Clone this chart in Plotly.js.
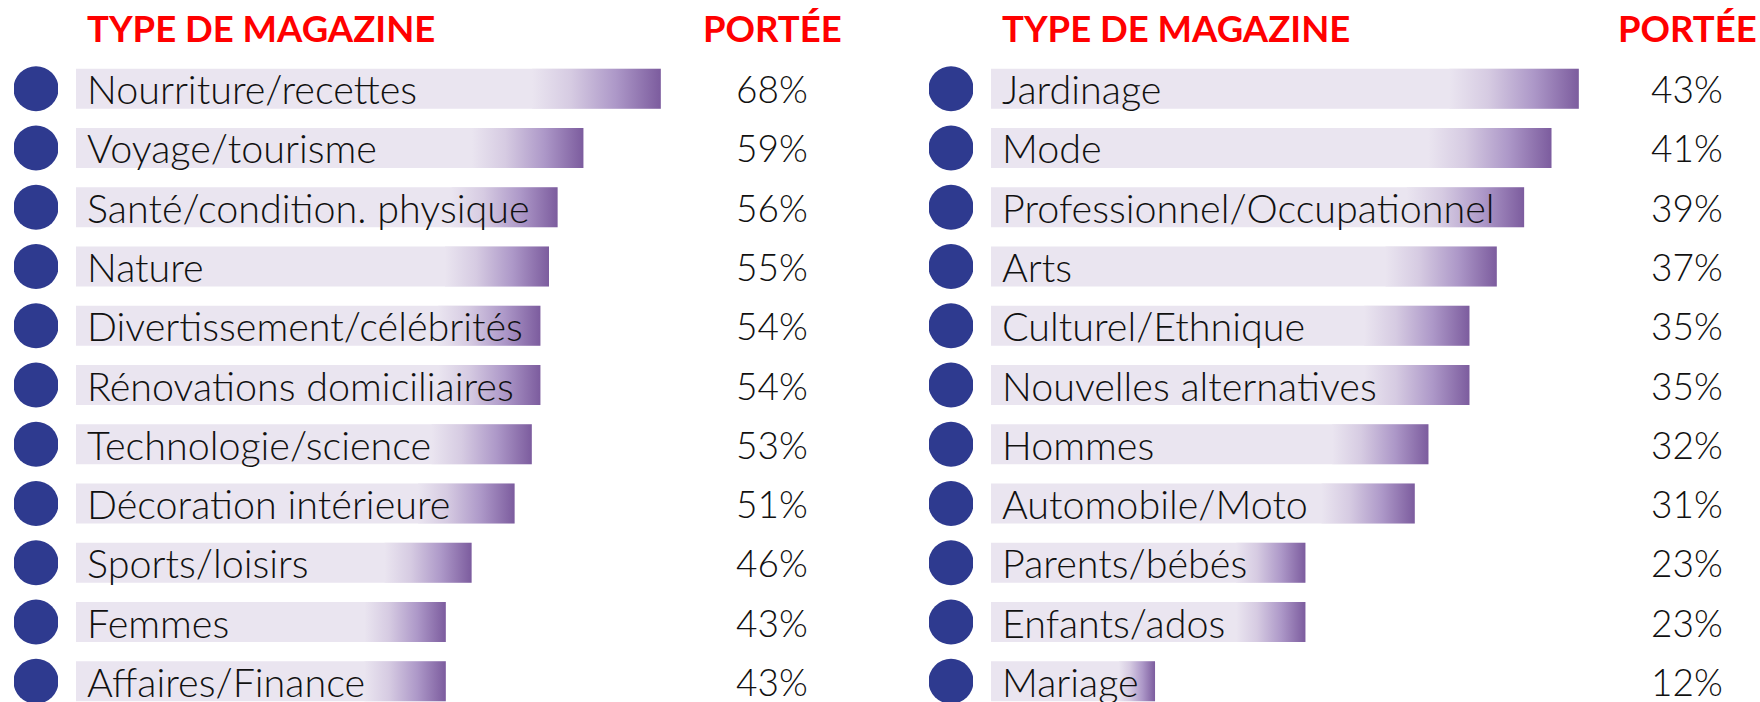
<!DOCTYPE html>
<html><head><meta charset="utf-8">
<script src="https://cdn.plot.ly/plotly-3.0.1.min.js"></script>
<style>html,body{margin:0;padding:0;background:#fff;overflow:hidden}#chart{width:1760px;height:702px}</style>
</head><body><div id="chart"></div>
<script>
// ---- data ----
const leftCategories = ["Nourriture/recettes","Voyage/tourisme","Santé/condition. physique","Nature","Divertissement/célébrités","Rénovations domiciliaires","Technologie/science","Décoration intérieure","Sports/loisirs","Femmes","Affaires/Finance"];
const leftValues = [68,59,56,55,54,54,53,51,46,43,43];
const rightCategories = ["Jardinage","Mode","Professionnel/Occupationnel","Arts","Culturel/Ethnique","Nouvelles alternatives","Hommes","Automobile/Moto","Parents/bébés","Enfants/ados","Mariage"];
const rightValues = [43,41,39,37,35,35,32,31,23,23,12];
const headerType = "TYPE DE MAGAZINE";
const headerReach = "PORTÉE";

// ---- layout constants ----
const W = 1760, H = 702;
const rowStep = 59.26, row0 = 88.7;
const yRange = [(H - row0) / rowStep, -row0 / rowStep];
const barW = 0.675, half = barW / 2;
const gradFrac = 0.78;
const light = '#EAE5F0';
const gradScale = [[0, '#EAE5F0'], [0.3, '#D6CBE2'], [0.65, '#AD98C8'], [1, '#7C5C9E']];
const dotColor = '#2E3A8F';
const labelFont = {family: 'Lato, "Open Sans", sans-serif', size: 39.5, color: '#111', weight: 300};
const pctFont = {family: 'Lato, "Open Sans", sans-serif', size: 37, color: '#111', weight: 300};
const headFont = {family: 'Lato, "Liberation Sans Narrow", sans-serif', size: 36.5, color: '#FF0000', weight: 700};

const panels = [
  {cats: leftCategories, vals: leftValues, xa: 'x', xa2: 'x3', pctX: 772 / W, typeX: 261 / W},
  {cats: rightCategories, vals: rightValues, xa: 'x2', xa2: 'x4', pctX: 1687 / W, typeX: 1176 / W}
];

const traces = [];
const annotations = [];
panels.forEach(p => {
  const idx = p.cats.map((_, i) => i);
  traces.push({
    type: 'bar', orientation: 'h', x: p.vals, y: idx, xaxis: p.xa, yaxis: 'y',
    width: barW, marker: {color: light, line: {width: 0}}, hoverinfo: 'x', showlegend: false
  });
  p.vals.forEach((v, i) => {
    const a = v * gradFrac;
    traces.push({
      type: 'scatter', mode: 'none', xaxis: p.xa, yaxis: 'y',
      x: [a, v, v, a, a], y: [i - half, i - half, i + half, i + half, i - half],
      fill: 'toself', fillgradient: {type: 'horizontal', colorscale: gradScale, start: a, stop: v},
      hoverinfo: 'skip', showlegend: false
    });
    annotations.push({
      xref: p.xa, yref: 'y', x: 0, y: i, text: p.cats[i], showarrow: false,
      xanchor: 'left', yanchor: 'middle', xshift: 9, font: labelFont
    });
    annotations.push({
      xref: 'paper', yref: 'y', x: p.pctX, y: i, text: v + '%', showarrow: false,
      xanchor: 'center', yanchor: 'middle', font: pctFont
    });
  });
  traces.push({
    type: 'scatter', mode: 'markers', xaxis: p.xa2, yaxis: 'y',
    x: idx.map(() => 0.5), y: idx,
    marker: {size: 45, color: dotColor, line: {width: 0}}, hoverinfo: 'skip', showlegend: false
  });
  annotations.push({xref: 'paper', yref: 'paper', x: p.typeX, y: 1 - 28 / H, text: headerType,
    showarrow: false, xanchor: 'center', yanchor: 'middle', font: headFont});
  annotations.push({xref: 'paper', yref: 'paper', x: p.pctX, y: 1 - 28 / H, text: headerReach,
    showarrow: false, xanchor: 'center', yanchor: 'middle', font: headFont});
});

const hidden = {showgrid: false, zeroline: false, showticklabels: false, ticks: '', showline: false, fixedrange: true};
const layout = {
  width: W, height: H, margin: {l: 0, r: 0, t: 0, b: 0},
  paper_bgcolor: '#fff', plot_bgcolor: 'rgba(0,0,0,0)', showlegend: false,
  xaxis: Object.assign({domain: [76 / W, 720 / W], range: [0, (720 - 76) / 8.6]}, hidden),
  xaxis2: Object.assign({domain: [991 / W, 1620 / W], range: [0, (1620 - 991) / 13.67]}, hidden),
  xaxis3: Object.assign({domain: [14 / W, 58 / W], range: [0, 1]}, hidden),
  xaxis4: Object.assign({domain: [929 / W, 973 / W], range: [0, 1]}, hidden),
  yaxis: Object.assign({domain: [0, 1], range: yRange}, hidden),
  annotations: annotations
};
Plotly.newPlot('chart', traces, layout, {displayModeBar: false, staticPlot: true});
</script></body></html>
